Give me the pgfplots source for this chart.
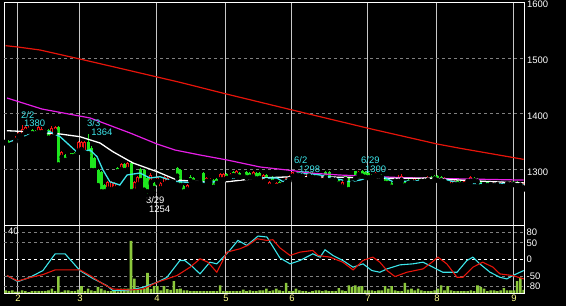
\documentclass[border=0pt]{standalone}
\usepackage{fontspec}
\setmainfont{Liberation Sans}
\usepackage{pgfplots}
\usepackage{pgfplotstable}
\pgfplotsset{compat=1.18}
\definecolor{cred}{RGB}{240,20,20}
\definecolor{cgreen}{RGB}{30,230,30}
\definecolor{mared}{RGB}{230,20,10}
\definecolor{mamag}{RGB}{230,30,230}
\definecolor{macyan}{RGB}{60,230,235}
\definecolor{volg}{RGB}{140,200,60}
\definecolor{vgrid}{RGB}{200,200,200}
\definecolor{hgrid}{RGB}{128,128,128}
\definecolor{myel}{RGB}{255,255,140}
\newcommand{\lf}{\fontsize{9.5}{11}\selectfont}

\pgfplotstableread{
d o h l c
0 1349 1352 1347 1351
2 1345 1351 1340 1350
3 1352 1360 1350 1358
4 1360 1368 1358 1366
5 1360 1380 1358 1374
6 1368 1378 1366 1376
7 1370 1378 1368 1372
10 1366 1378 1364 1376
11 1366 1376 1364 1374
14 1358 1378 1356 1375
15 1368 1379 1366 1376
17 1322 1334 1318 1332
19 1325 1328 1320 1327
22 1333 1352 1330 1350
23 1336 1352 1334 1350
24 1330 1352 1325 1350
31 1265 1281 1262 1279
32 1264 1280 1262 1278
33 1266 1278 1264 1276
35 1300 1312 1298 1310
37 1300 1314 1298 1312
39 1262 1280 1258 1278
40 1273 1290 1270 1287
44 1277 1294 1275 1291
46 1279 1290 1276 1288
47 1266 1279 1263 1277
48 1273 1290 1270 1288
49 1277 1287 1274 1285
50 1278 1282 1276 1280
51 1277 1281 1275 1279
55 1264 1275 1262 1273
59 1277 1281 1275 1279
61 1279 1288 1277 1286
62 1279 1285 1277 1283
65 1282 1295 1280 1293
66 1282 1295 1280 1293
68 1287 1295 1285 1293
70 1289 1300 1287 1298
72 1290 1293 1288 1291
75 1287 1298 1285 1296
78 1277 1293 1275 1291
80 1270 1281 1267 1279
82 1270 1279 1267 1277
84 1273 1280 1271 1278
85 1277 1287 1275 1285
86 1282 1291 1280 1289
87 1288 1297 1286 1296
88 1290 1298 1288 1295
91 1282 1296 1278 1294
96 1280 1289 1278 1287
102 1269 1281 1266 1279
107 1291 1298 1289 1297
112 1289 1296 1287 1294
113 1290 1295 1288 1293
119 1279 1291 1277 1288
120 1281 1292 1279 1289
124 1276 1288 1274 1286
126 1279 1286 1277 1284
128 1281 1290 1279 1287
133 1279 1288 1277 1286
135 1271 1283 1268 1281
136 1273 1282 1271 1280
139 1273 1282 1271 1280
140 1279 1286 1277 1284
141 1279 1289 1277 1287
145 1273 1279 1271 1277
147 1273 1278 1271 1276
148 1271 1279 1269 1277
149 1273 1277 1271 1275
150 1270 1278 1268 1276
151 1270 1279 1268 1277
153 1273 1281 1271 1279
157 1267 1278 1265 1276
}\up

\pgfplotstableread{
d o h l c
1 1352 1354 1343 1345
8 1371 1373 1364 1366
9 1370 1372 1364 1366
12 1372 1374 1368 1369
13 1371 1373 1356 1358
16 1376 1378 1305 1310
18 1327 1328 1316 1318
20 1330 1331 1323 1325
21 1330 1332 1324 1326
25 1350 1364 1325 1330
26 1339 1342 1298 1300
27 1321 1323 1298 1300
28 1300 1302 1270 1273
29 1296 1298 1258 1262
30 1273 1275 1257 1262
34 1303 1305 1296 1298
36 1310 1312 1298 1300
38 1312 1316 1258 1262
41 1302 1304 1280 1282
42 1300 1302 1262 1265
43 1285 1288 1254 1262
45 1276 1278 1260 1268
52 1303 1306 1285 1290
53 1300 1302 1270 1273
54 1272 1274 1260 1262
56 1287 1291 1280 1282
57 1285 1287 1277 1279
58 1279 1281 1275 1277
60 1295 1297 1271 1273
63 1282 1284 1268 1270
64 1284 1286 1275 1277
67 1293 1295 1284 1286
69 1296 1298 1289 1291
71 1294 1296 1286 1288
73 1296 1298 1285 1287
74 1295 1297 1286 1288
76 1294 1296 1283 1285
77 1294 1296 1284 1286
79 1291 1293 1280 1282
81 1288 1290 1277 1279
83 1278 1280 1271 1273
89 1295 1297 1289 1291
90 1295 1297 1288 1290
92 1296 1297 1288 1290
93 1295 1297 1286 1288
94 1293 1295 1285 1287
95 1290 1292 1284 1286
97 1296 1298 1285 1287
98 1296 1298 1280 1282
99 1287 1289 1282 1284
100 1284 1286 1281 1283
101 1282 1284 1274 1276
103 1289 1291 1282 1284
104 1286 1288 1264 1266
105 1279 1281 1275 1277
106 1298 1299 1284 1286
108 1299 1300 1288 1290
109 1297 1299 1286 1288
110 1294 1296 1285 1287
111 1290 1292 1286 1288
114 1290 1292 1286 1288
115 1286 1288 1275 1277
116 1282 1284 1275 1277
117 1277 1279 1268 1270
118 1284 1286 1279 1281
121 1278 1280 1271 1273
122 1282 1284 1275 1277
123 1283 1285 1278 1280
125 1282 1284 1275 1277
127 1283 1285 1279 1281
129 1287 1289 1278 1280
130 1289 1291 1283 1285
131 1289 1291 1280 1282
132 1288 1290 1280 1282
134 1282 1284 1275 1277
137 1280 1282 1273 1275
138 1279 1281 1273 1275
142 1286 1288 1280 1282
143 1283 1285 1278 1280
144 1279 1281 1269 1271
146 1278 1280 1271 1273
152 1278 1280 1274 1276
154 1279 1281 1273 1275
155 1278 1280 1271 1273
156 1276 1278 1272 1274
}\dn

\pgfplotstableread{
d v
0 1.8
1 1.3
2 1.8
3 0.9
4 0.9
5 1.8
6 1.3
7 0.5
8 1.3
9 1.3
10 1.3
11 1.3
12 1.3
13 1.8
14 2.9
15 1.3
16 11.1
17 0.7
18 1.8
19 1.8
20 1.3
21 1.3
22 2.2
23 4.5
24 1.3
25 2.9
26 1.8
27 1.3
28 4.0
29 2.9
30 1.8
31 1.3
32 1.3
33 1.3
34 1.0
35 2.9
36 2.9
37 2.9
38 34.5
39 9.5
40 2.9
41 2.5
42 2.9
43 13.3
44 2.5
45 4.5
46 4.5
47 1.8
48 4.5
49 2.5
50 2.0
51 7.8
52 2.5
53 2.9
54 1.8
55 1.8
56 1.3
57 1.3
58 1.3
59 1.3
60 1.3
61 1.3
62 1.3
63 1.3
64 1.3
65 5.1
66 1.3
67 1.3
68 1.3
69 1.3
70 1.3
71 1.3
72 2.2
73 1.3
74 1.8
75 1.3
76 1.3
77 1.8
78 1.8
79 2.9
80 1.3
81 1.8
82 2.9
83 1.8
84 1.3
85 6.7
86 1.3
87 1.3
88 2.9
89 1.8
90 1.3
91 1.3
92 0.7
93 1.3
94 1.8
95 1.8
96 1.3
97 1.8
98 1.3
99 1.3
100 1.3
101 3.3
102 1.8
103 1.3
104 5.1
105 4.0
106 5.1
107 4.0
108 4.5
109 1.8
110 1.8
111 1.8
112 1.3
113 1.8
114 1.8
115 4.5
116 2.9
117 4.5
118 1.8
119 1.3
120 1.3
121 6.7
122 2.2
123 2.9
124 1.8
125 2.9
126 1.8
127 1.3
128 1.3
129 1.3
130 1.8
131 2.9
132 5.1
133 1.8
134 4.5
135 1.8
136 1.3
137 1.3
138 1.3
139 1.3
140 1.3
141 1.8
142 1.3
143 5.1
144 4.0
145 2.9
146 1.3
147 1.8
148 1.8
149 1.3
150 1.8
151 3.3
152 1.8
153 1.8
154 1.8
155 7.8
156 10.2
157 2.0
}\vol

\begin{document}
\begin{tikzpicture}
\fill[black] (0bp,0bp) rectangle (566bp,306bp);
\useasboundingbox (0bp,0bp) rectangle (566bp,306bp);

% ---------------- price panel ----------------
\begin{axis}[
  at={(4bp,80bp)}, anchor=south west, scale only axis,
  width=520bp, height=224bp,
  xmin=-0.5, xmax=157.1, ymin=1200, ymax=1600,
  axis line style={white, line width=1bp},
  xtick={3.74,22.5,45.86,66.77,86.77,109.8,130.7,154.05},
  xticklabels={,,,,,,,},
  xmajorgrids, grid style={vgrid, line width=1bp},
  ytick={1300,1400,1500,1600},
  yticklabels={1300,1400,1500,1600},
  yticklabel pos=right,
  yticklabel style={white, anchor=west, inner sep=0pt, xshift=3bp, yshift=-2bp, font=\lf},
  major tick length=0pt,
]
\draw[hgrid, line width=1bp, dash pattern=on 3bp off 3bp]
  (axis cs:-0.5,1300) -- (axis cs:157.1,1300)
  (axis cs:-0.5,1400) -- (axis cs:157.1,1400)
  (axis cs:-0.5,1500) -- (axis cs:157.1,1500);

% down candles (green, filled)
\addplot[only marks, mark=none, error bars/.cd, y dir=plus, y explicit, error mark=none,
  error bar style={draw=cgreen, line width=1bp, solid}]
  table[x=d, y=l, y error plus expr=\thisrow{h}-\thisrow{l}] {\dn};
\addplot[only marks, mark=none, error bars/.cd, y dir=plus, y explicit, error mark=none,
  error bar style={draw=cgreen, line width=3bp, solid}]
  table[x=d, y=c, y error plus expr={max(\thisrow{o}-\thisrow{c},1)}] {\dn};
% up candles (red, hollow)
\addplot[only marks, mark=none, error bars/.cd, y dir=plus, y explicit, error mark=none,
  error bar style={draw=cred, line width=1bp, solid}]
  table[x=d, y=l, y error plus expr=\thisrow{h}-\thisrow{l}] {\up};
\addplot[only marks, mark=none, error bars/.cd, y dir=plus, y explicit, error mark=none,
  error bar style={draw=cred, line width=3bp, solid}]
  table[x=d, y=o, y error plus expr={max(\thisrow{c}-\thisrow{o},1)}] {\up};
\addplot[only marks, mark=none, error bars/.cd, y dir=plus, y explicit, error mark=none,
  error bar style={draw=black, line width=1bp, solid}]
  table[x=d, y expr=\thisrow{o}+1.8, y error plus expr={max(\thisrow{c}-\thisrow{o}-3.6,0)}] {\up};

% moving averages (on top of the candles)
\addplot[mared, line width=1.2bp] coordinates {(0,1522) (3.74,1519.6) (10.4,1514.3) (22.5,1498.2) (34.65,1481.6) (45.9,1466.1) (52.8,1456.6) (66.9,1435.7) (86.9,1407.1) (109.9,1374.5) (130.8,1346.4) (137.7,1338.8) (157,1319)};
\addplot[mamag, line width=1.2bp] coordinates {(0.4,1428.6) (11,1408.9) (25.6,1392.9) (37.7,1366.1) (45.9,1346.4) (51.3,1335.7) (58.9,1326.8) (67.1,1317.9) (77.1,1305.4) (87.1,1298.8) (92.2,1294.6) (101.3,1291) (119.5,1286.5) (134.6,1284.5) (157,1282)};
\addplot[white, line width=1.3bp] coordinates {(0.4,1370.2) (8.3,1367.9) (16.5,1364.3) (22.5,1359.5) (28.6,1348.2) (32.5,1332.7) (38.6,1312.5) (45.9,1297) (51.9,1282.1) (58.9,1279) (67.1,1279) (77.1,1285.7) (87.1,1288) (97.4,1287.5) (107.4,1286.5) (117.4,1285) (127.7,1285.5) (137.7,1282) (147.7,1279) (157,1277)};
\addplot[macyan, line width=1.3bp] coordinates {(1.3,1350.5) (4.35,1357) (7.4,1366) (13.4,1368.4) (16.5,1359.5) (18.6,1348.2) (21.6,1332.1) (25.6,1335.7) (27.7,1323.8) (29.5,1300) (31.6,1279) (34.6,1273.2) (36.8,1291.1) (40.7,1294.6) (43.7,1285.7) (46.8,1288) (50.7,1280) (55,1278) (58.9,1278) (64,1279) (68.9,1285.7) (74,1288) (77.1,1285.7) (82.2,1285.7) (84.1,1279) (88.3,1294.6) (95.3,1291.1) (104.4,1279) (107.4,1282.1) (113.4,1291.1) (117.4,1279) (124.7,1280.9) (133.7,1282.1) (137.7,1276.2) (145.9,1276) (152.8,1275) (157,1274)};

\node[anchor=west, inner sep=0pt, text=macyan, font=\lf] at (axis cs:4.65,1398.2) {2/2};
\node[anchor=west, inner sep=0pt, text=macyan, font=\lf] at (axis cs:5.56,1383) {1380};
\node[anchor=west, inner sep=0pt, text=macyan, font=\lf] at (axis cs:24.65,1383) {3/3};
\node[anchor=west, inner sep=0pt, text=macyan, font=\lf] at (axis cs:25.9,1367.9) {1364};
\node[anchor=west, inner sep=0pt, text=white, font=\lf] at (axis cs:42.5,1246.4) {3/29};
\node[anchor=west, inner sep=0pt, text=white, font=\lf] at (axis cs:43.4,1229.5) {1254};
\node[anchor=west, inner sep=0pt, text=macyan, font=\lf] at (axis cs:87.4,1317.9) {6/2};
\node[anchor=west, inner sep=0pt, text=macyan, font=\lf] at (axis cs:88.9,1301.8) {1298};
\node[anchor=west, inner sep=0pt, text=macyan, font=\lf] at (axis cs:107.7,1317.9) {6/29};
\node[anchor=west, inner sep=0pt, text=macyan, font=\lf] at (axis cs:108.9,1301.8) {1300};
\end{axis}

% ---------------- lower panel: frame, grid, labels ----------------
\begin{axis}[
  at={(4bp,13bp)}, anchor=south west, scale only axis,
  width=520bp, height=67bp,
  xmin=-0.5, xmax=157.1, ymin=-100, ymax=100,
  axis line style={white, line width=1bp},
  xtick={3.74,22.5,45.86,66.77,86.77,109.8,130.7,154.05},
  xticklabels={2,3,4,5,6,7,8,9},
  xticklabel style={text=myel, anchor=north, inner sep=0pt, yshift=-2bp, font=\lf},
  xmajorgrids, grid style={vgrid, line width=1bp},
  ytick={-80,-50,0,50,80},
  yticklabels={-80,-50,0,50,80},
  yticklabel pos=right,
  yticklabel style={white, anchor=west, inner sep=0pt, xshift=2.5bp, font=\lf},
  major tick length=0pt,
]
\draw[hgrid, line width=1bp, dash pattern=on 3bp off 3bp]
  (axis cs:-0.5,80) -- (axis cs:157.1,80)
  (axis cs:-0.5,50) -- (axis cs:157.1,50)
  (axis cs:-0.5,-50) -- (axis cs:157.1,-50)
  (axis cs:-0.5,-80) -- (axis cs:157.1,-80);
\draw[white, line width=1bp, dash pattern=on 3bp off 3bp]
  (axis cs:-0.5,0) -- (axis cs:157.1,0);
\addplot[draw=none, forget plot] coordinates {(0,0)};
\end{axis}

% volume
\begin{axis}[
  at={(4bp,13bp)}, anchor=south west, scale only axis,
  width=520bp, height=67bp,
  xmin=-0.5, xmax=157.1, ymin=0, ymax=44.4,
  hide axis,
]
\addplot[ybar, bar width=2.6bp, fill=volg, draw=none] table[x=d, y=v] {\vol};
\node[anchor=west, inner sep=0pt, text=white, font=\lf] at (axis cs:0.71,41) {40};
\end{axis}

% oscillators
\begin{axis}[
  at={(4bp,13bp)}, anchor=south west, scale only axis,
  width=520bp, height=67bp,
  xmin=-0.5, xmax=157.1, ymin=-100, ymax=100,
  hide axis,
]
\addplot[macyan, line width=1.1bp] coordinates {(0.4,-48) (3.7,-66) (7.4,-53) (11.3,-33) (15,17) (18,17) (22.5,-33) (26.5,-57) (30.7,-78) (32.5,-93) (36.8,-93) (41.6,-83) (45.9,-68) (48.9,-53) (52.8,-3) (54.3,-3) (56.8,-23) (58.9,-43) (61.9,-8) (64,-13) (67.9,27) (70.4,57) (73.1,42) (76.5,70) (79.2,67) (83.1,5) (86.2,-13) (89.2,-3) (93.1,17) (95.3,7) (96.8,29) (99.2,12) (102.2,-3) (105.3,-23) (108.3,-13) (111,-33) (113.4,-38) (115.6,-28) (119.5,-16) (123.4,-13) (126.5,-8) (129.5,-23) (132.5,-38) (136.8,-38) (139.8,-3) (141.6,7) (143.7,-13) (146.8,-38) (149.8,-53) (151.9,-58) (153.7,-48) (157,-33)};
\addplot[mared, line width=1.1bp] coordinates {(0.4,-48) (3.7,-64) (7.4,-54) (11.3,-45) (15,-31) (18.6,-31) (22.5,-31) (25.6,-48) (29.5,-73) (32.5,-88) (37.7,-91) (41.6,-88) (45.9,-68) (51.9,-48) (55.9,-23) (58.9,2) (61.3,-8) (64,-38) (67.1,22) (71,32) (73.4,42) (76.2,62) (79.2,57) (81,59) (83.1,35) (86.2,12) (89.2,22) (93.1,27) (94.7,12) (98.3,7) (102.2,-8) (105.3,-31) (108.3,-3) (111.3,7) (113.4,-8) (115.6,-33) (118,-51) (121.6,-38) (126.5,-28) (129.2,-8) (131,7) (133.7,-13) (136.8,-53) (138.6,-53) (141.6,-23) (144.6,-8) (147.7,-23) (149.8,-43) (153.7,-48) (157,-58)};
\end{axis}
\end{tikzpicture}
\end{document}
